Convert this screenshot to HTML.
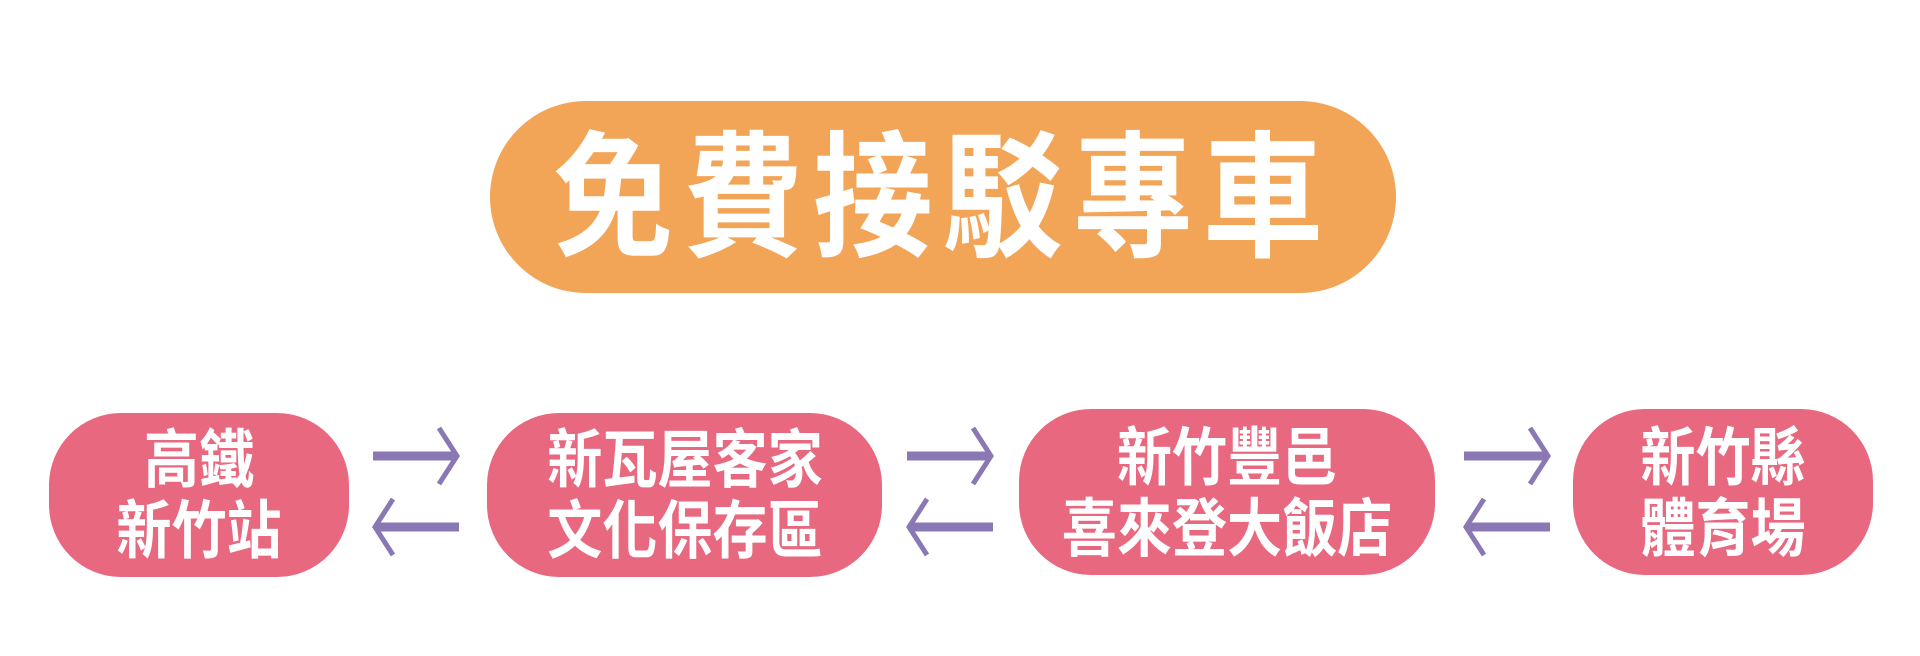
<!DOCTYPE html>
<html><head><meta charset="utf-8"><style>
html,body{margin:0;padding:0;background:#fff;}
body{width:1920px;height:651px;overflow:hidden;}
text{font-family:"Liberation Sans","Noto Sans CJK TC",sans-serif;font-weight:bold;fill:#fff;text-anchor:middle;}
</style></head><body>
<svg width="1920" height="651" viewBox="0 0 1920 651" xmlns="http://www.w3.org/2000/svg">
<rect x="490" y="101" width="906" height="192" rx="96" fill="#f2a557"/>
<g transform="translate(943,246) scale(1,1.14)"><text x="0" y="0" font-size="120" letter-spacing="10">免費接駁專車</text></g>
<g fill="#e8687f">
<rect x="49" y="413" width="300" height="164" rx="72"/>
<rect x="487" y="413" width="395" height="164" rx="72"/>
<rect x="1019" y="409" width="416" height="166" rx="72"/>
<rect x="1573" y="409" width="300" height="166" rx="72"/>
</g>
<g font-size="58">
<g transform="translate(199,482) scale(0.95,1.1)"><text>高鐵</text></g>
<g transform="translate(199,553) scale(0.95,1.1)"><text>新竹站</text></g>
<g transform="translate(685,482) scale(0.95,1.1)"><text>新瓦屋客家</text></g>
<g transform="translate(685,553) scale(0.95,1.1)"><text>文化保存區</text></g>
<g transform="translate(1227,480) scale(0.95,1.1)"><text>新竹豐邑</text></g>
<g transform="translate(1227,551) scale(0.95,1.1)"><text>喜來登大飯店</text></g>
<g transform="translate(1723,480) scale(0.95,1.1)"><text>新竹縣</text></g>
<g transform="translate(1723,551) scale(0.95,1.1)"><text>體育場</text></g>
</g>
<g stroke="#8a78b5" fill="none">
<g transform="translate(373,0)">
<line x1="0" y1="456" x2="82" y2="456" stroke-width="9"/><polyline points="66,428 84,456 66,484" stroke-width="5"/>
<line x1="4" y1="527" x2="86" y2="527" stroke-width="9"/><polyline points="20,499 2,527 20,555" stroke-width="5"/>
</g>
<g transform="translate(907,0)">
<line x1="0" y1="456" x2="82" y2="456" stroke-width="9"/><polyline points="66,428 84,456 66,484" stroke-width="5"/>
<line x1="4" y1="527" x2="86" y2="527" stroke-width="9"/><polyline points="20,499 2,527 20,555" stroke-width="5"/>
</g>
<g transform="translate(1464,0)">
<line x1="0" y1="456" x2="82" y2="456" stroke-width="9"/><polyline points="66,428 84,456 66,484" stroke-width="5"/>
<line x1="4" y1="527" x2="86" y2="527" stroke-width="9"/><polyline points="20,499 2,527 20,555" stroke-width="5"/>
</g>
</g>
</svg>
</body></html>
